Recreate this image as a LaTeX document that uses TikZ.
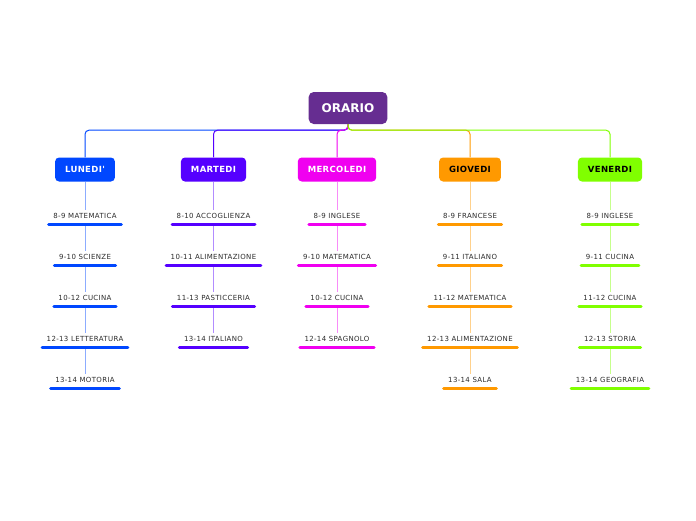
\documentclass[tikz,border=0pt]{standalone}
\usepackage{fontspec}
\setmainfont{DejaVu Sans}
\newfontfamily\itemfont[LetterSpace=5]{DejaVu Sans}
\newfontfamily\headfont[LetterSpace=4]{DejaVu Sans}
\definecolor{rootc}{HTML}{662D91}
\definecolor{cmon}{HTML}{0047FF}
\definecolor{ctue}{HTML}{5500FF}
\definecolor{cwed}{HTML}{F000F0}
\definecolor{cthu}{HTML}{FF9900}
\definecolor{cfri}{HTML}{80FF00}
\definecolor{txt}{HTML}{2B2B2B}
\begin{document}
\begin{tikzpicture}[x=1pt,y=-1pt,
 rootbox/.style={fill=rootc, rounded corners=5pt, text=white, font=\bfseries\fontsize{12}{14}\selectfont, minimum height=32pt, inner xsep=13pt},
 daybox/.style={fill=#1, rounded corners=4pt, font=\headfont\bfseries\fontsize{8.5}{10}\selectfont, minimum height=24pt, inner xsep=10pt, text=white},
 item/.style={font=\itemfont\fontsize{7}{8}\selectfont, text=txt, inner xsep=4.5pt, inner ysep=3pt, anchor=base},
 ubar/.style={line width=3pt, line cap=round, draw=#1},
 link/.style={draw=#1, line width=1pt, rounded corners=4pt},
 vlink/.style={draw=#1!45, line width=1pt},
]
\useasboundingbox (0,0) rectangle (696,520);

\node[rootbox] (root) at (348,108) {ORARIO};

\node[daybox=cmon] (mon) at (85,169.5) {LUNEDI'};
\node[daybox=ctue] (tue) at (213.5,169.5) {MARTEDI};
\node[daybox=cwed] (wed) at (337,169.5) {MERCOLEDI};
\node[daybox=cthu, text=black] (thu) at (470,169.5) {GIOVEDI};
\node[daybox=cfri, text=black] (fri) at (610,169.5) {VENERDI};

\draw[link=cmon] (root.south) -- ++(0,6) -| (mon.north);
\draw[link=ctue] (root.south) -- ++(0,6) -| (tue.north);
\draw[link=cwed] (root.south) -- ++(0,6) -| (wed.north);
\draw[link=cthu] (root.south) -- ++(0,6) -| (thu.north);
\draw[link=cfri] (root.south) -- ++(0,6) -| (fri.north);

% LUNEDI
\node[item] (mon1) at (85,218) {8-9 MATEMATICA};
\node[item] (mon2) at (85,259) {9-10 SCIENZE};
\node[item] (mon3) at (85,300) {10-12 CUCINA};
\node[item] (mon4) at (85,341) {12-13 LETTERATURA};
\node[item] (mon5) at (85,382) {13-14 MOTORIA};
% MARTEDI
\node[item] (tue1) at (213.5,218) {8-10 ACCOGLIENZA};
\node[item] (tue2) at (213.5,259) {10-11 ALIMENTAZIONE};
\node[item] (tue3) at (213.5,300) {11-13 PASTICCERIA};
\node[item] (tue4) at (213.5,341) {13-14 ITALIANO};
% MERCOLEDI
\node[item] (wed1) at (337,218) {8-9 INGLESE};
\node[item] (wed2) at (337,259) {9-10 MATEMATICA};
\node[item] (wed3) at (337,300) {10-12 CUCINA};
\node[item] (wed4) at (337,341) {12-14 SPAGNOLO};
% GIOVEDI
\node[item] (thu1) at (470,218) {8-9 FRANCESE};
\node[item] (thu2) at (470,259) {9-11 ITALIANO};
\node[item] (thu3) at (470,300) {11-12 MATEMATICA};
\node[item] (thu4) at (470,341) {12-13 ALIMENTAZIONE};
\node[item] (thu5) at (470,382) {13-14 SALA};
% VENERDI
\node[item] (fri1) at (610,218) {8-9 INGLESE};
\node[item] (fri2) at (610,259) {9-11 CUCINA};
\node[item] (fri3) at (610,300) {11-12 CUCINA};
\node[item] (fri4) at (610,341) {12-13 STORIA};
\node[item] (fri5) at (610,382) {13-14 GEOGRAFIA};

% underlines
\foreach \n in {mon1,mon2,mon3,mon4,mon5}
  \draw[ubar=cmon] ([yshift=-6.5pt]\n.base west) -- ([yshift=-6.5pt]\n.base east);
\foreach \n in {tue1,tue2,tue3,tue4}
  \draw[ubar=ctue] ([yshift=-6.5pt]\n.base west) -- ([yshift=-6.5pt]\n.base east);
\foreach \n in {wed1,wed2,wed3,wed4}
  \draw[ubar=cwed] ([yshift=-6.5pt]\n.base west) -- ([yshift=-6.5pt]\n.base east);
\foreach \n in {thu1,thu2,thu3,thu4,thu5}
  \draw[ubar=cthu] ([yshift=-6.5pt]\n.base west) -- ([yshift=-6.5pt]\n.base east);
\foreach \n in {fri1,fri2,fri3,fri4,fri5}
  \draw[ubar=cfri] ([yshift=-6.5pt]\n.base west) -- ([yshift=-6.5pt]\n.base east);

% vertical links
\draw[vlink=cmon] (mon.south) -- (mon1.north);
\foreach \a/\b in {mon1/mon2,mon2/mon3,mon3/mon4,mon4/mon5}
  \draw[vlink=cmon] ([yshift=-8pt]\a.base) -- (\b.north);
\draw[vlink=ctue] (tue.south) -- (tue1.north);
\foreach \a/\b in {tue1/tue2,tue2/tue3,tue3/tue4}
  \draw[vlink=ctue] ([yshift=-8pt]\a.base) -- (\b.north);
\draw[vlink=cwed] (wed.south) -- (wed1.north);
\foreach \a/\b in {wed1/wed2,wed2/wed3,wed3/wed4}
  \draw[vlink=cwed] ([yshift=-8pt]\a.base) -- (\b.north);
\draw[vlink=cthu] (thu.south) -- (thu1.north);
\foreach \a/\b in {thu1/thu2,thu2/thu3,thu3/thu4,thu4/thu5}
  \draw[vlink=cthu] ([yshift=-8pt]\a.base) -- (\b.north);
\draw[vlink=cfri] (fri.south) -- (fri1.north);
\foreach \a/\b in {fri1/fri2,fri2/fri3,fri3/fri4,fri4/fri5}
  \draw[vlink=cfri] ([yshift=-8pt]\a.base) -- (\b.north);
\end{tikzpicture}
\end{document}
